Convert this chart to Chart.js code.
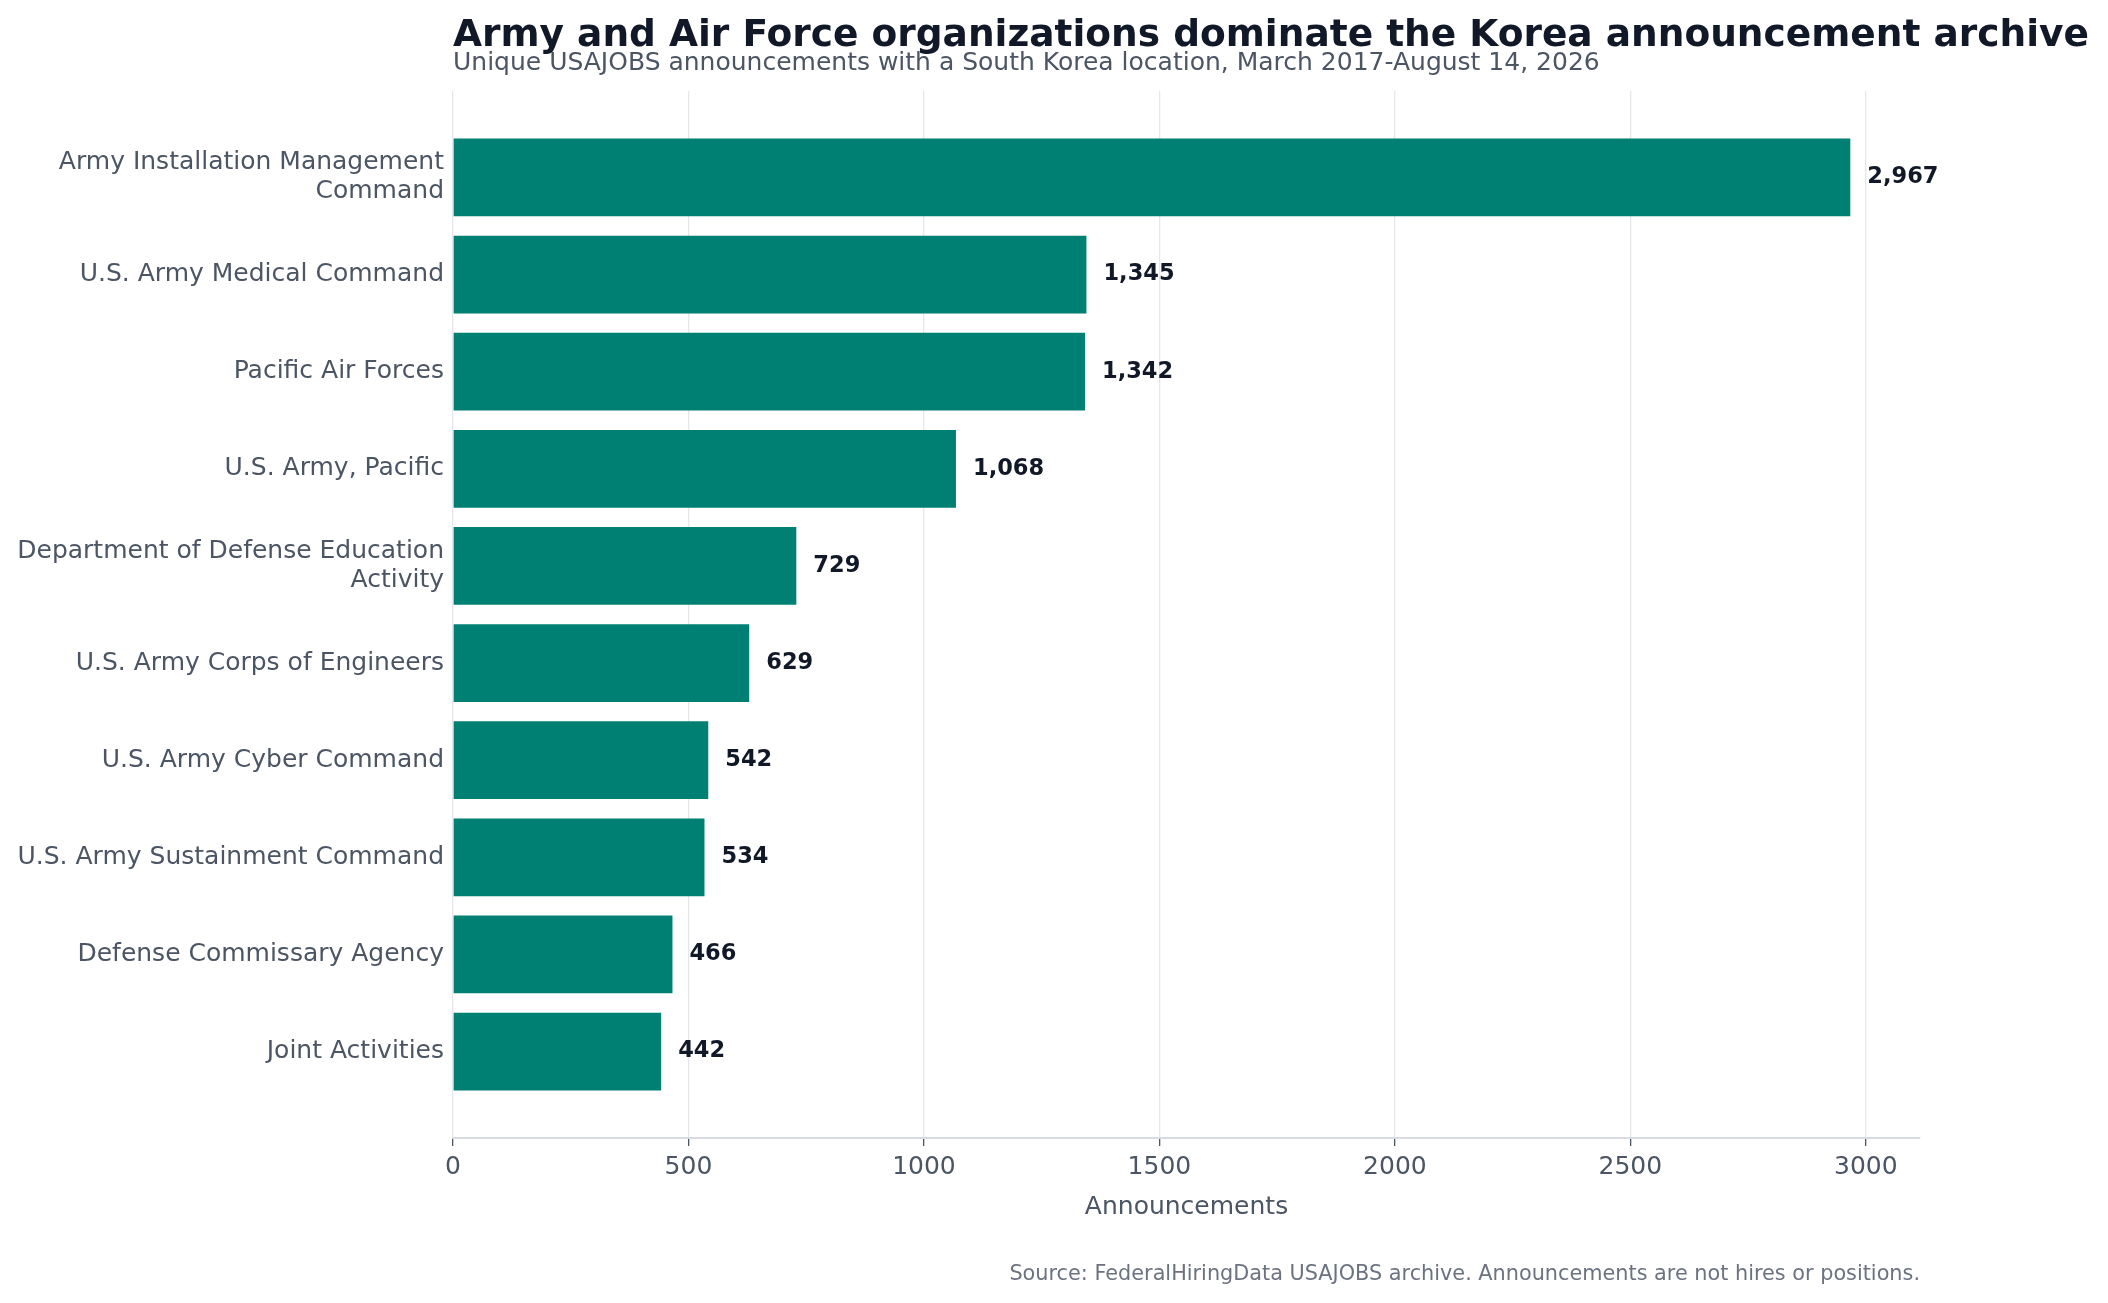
<!DOCTYPE html>
<html lang="en">
<head>
  <meta charset="UTF-8">
  <title>Korea announcements by organization</title>
  <script src="https://cdn.jsdelivr.net/npm/chart.js"></script>
  <style>
    html, body { margin: 0; padding: 0; background: #ffffff; }
    #wrap { width: 2108px; height: 1303px; position: relative; }
  </style>
</head>
<body>
  <div id="wrap">
    <canvas id="orgChart"></canvas>
  </div>

  <script>
    const categories = [
      'Army Installation Management Command',
      'U.S. Army Medical Command',
      'Pacific Air Forces',
      'U.S. Army, Pacific',
      'Department of Defense Education Activity',
      'U.S. Army Corps of Engineers',
      'U.S. Army Cyber Command',
      'U.S. Army Sustainment Command',
      'Defense Commissary Agency',
      'Joint Activities'
    ];
    const announcements = [2967, 1345, 1342, 1068, 729, 629, 542, 534, 466, 442];
    const xTicks = [0, 500, 1000, 1500, 2000, 2500, 3000];

    const titleText = 'Army and Air Force organizations dominate the Korea announcement archive';
    const subtitleText = 'Unique USAJOBS announcements with a South Korea location, March 2017-August 14, 2026';
    const sourceText = 'Source: FederalHiringData USAJOBS archive. Announcements are not hires or positions.';

    const FONT = '"DejaVu Sans", "Liberation Sans", sans-serif';

    // wrap long names roughly like textwrap(width=32)
    function wrap(str, width) {
      const words = str.split(' ');
      const lines = [];
      let cur = '';
      words.forEach(w => {
        if (cur && (cur + ' ' + w).length > width) {
          lines.push(cur);
          cur = w;
        } else {
          cur = cur ? cur + ' ' + w : w;
        }
      });
      if (cur) lines.push(cur);
      return lines.length > 1 ? lines : lines[0];
    }

    const points = announcements.map((v, i) => ({ x: v, y: i }));

    // title, subtitle, source note
    const textPlugin = {
      id: 'textPlugin',
      afterDraw(chart) {
        const ctx = chart.ctx;
        const area = chart.chartArea;
        ctx.save();
        ctx.textAlign = 'left';
        ctx.textBaseline = 'alphabetic';
        ctx.fillStyle = '#111827';
        ctx.font = 'bold 37.5px ' + FONT;
        ctx.fillText(titleText, area.left, 46);
        ctx.fillStyle = '#4b5563';
        ctx.font = '25px ' + FONT;
        ctx.fillText(subtitleText, area.left, 70);
        ctx.textAlign = 'right';
        ctx.fillStyle = '#6b7280';
        ctx.font = '20.8px ' + FONT;
        ctx.fillText(sourceText, area.right, 1280);
        ctx.restore();
      }
    };

    // value labels at the end of each bar
    const valueLabels = {
      id: 'valueLabels',
      afterDraw(chart) {
        const ctx = chart.ctx;
        const meta = chart.getDatasetMeta(0);
        ctx.save();
        ctx.font = 'bold 22.5px ' + FONT;
        ctx.fillStyle = '#111827';
        ctx.textAlign = 'left';
        ctx.textBaseline = 'middle';
        meta.data.forEach((bar, i) => {
          ctx.fillText(announcements[i].toLocaleString('en-US'), bar.x + 17, bar.y);
        });
        ctx.restore();
      }
    };

    const ctx = document.getElementById('orgChart').getContext('2d');
    new Chart(ctx, {
      type: 'bar',
      data: {
        datasets: [{
          label: 'Announcements',
          data: points,
          backgroundColor: '#008072',
          borderWidth: 0,
          categoryPercentage: 1,
          barPercentage: 0.8
        }]
      },
      options: {
        indexAxis: 'y',
        responsive: true,
        maintainAspectRatio: false,
        devicePixelRatio: 1,
        animation: false,
        layout: { padding: { top: 91, right: 188, bottom: 81, left: 0 } },
        plugins: {
          legend: { display: false },
          tooltip: { enabled: false }
        },
        scales: {
          x: {
            type: 'linear',
            min: 0,
            max: 3115,
            z: 1,
            afterBuildTicks: (scale) => { scale.ticks = xTicks.map(v => ({ value: v })); },
            ticks: {
              color: '#4b5563',
              font: { family: FONT, size: 25 },
              padding: 6,
              callback: (v) => String(v)
            },
            grid: {
              color: '#e5e7eb',
              lineWidth: 1.3,
              tickColor: '#4b5563',
              tickLength: 8,
              tickWidth: 1.3
            },
            border: { display: true, color: '#d5dae3', width: 2 },
            title: {
              display: true,
              text: 'Announcements',
              color: '#4b5563',
              font: { family: FONT, size: 25 },
              padding: { top: 4, bottom: 0 }
            }
          },
          y: {
            type: 'linear',
            min: -0.89,
            max: 9.89,
            reverse: true,
            offset: false,
            afterBuildTicks: (scale) => { scale.ticks = categories.map((c, i) => ({ value: i })); },
            afterFit: (scale) => { scale.width = 453; },
            ticks: {
              autoSkip: false,
              color: '#4b5563',
              padding: 9,
              font: { family: FONT, size: 25, lineHeight: 1.16 },
              callback: (v) => wrap(categories[v], 32)
            },
            grid: { display: false, drawTicks: false },
            border: { display: false }
          }
        }
      },
      plugins: [textPlugin, valueLabels]
    });
  </script>
</body>
</html>
